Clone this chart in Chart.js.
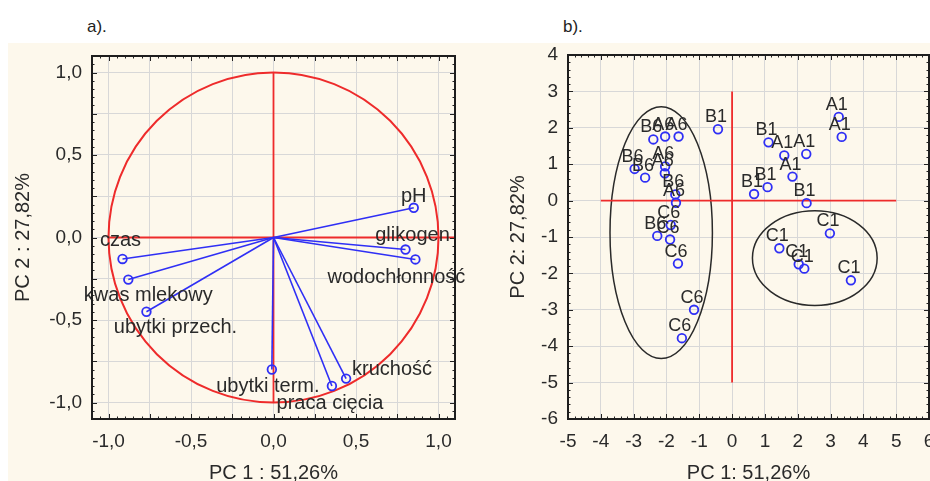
<!DOCTYPE html>
<html><head><meta charset="utf-8">
<script src="https://cdn.jsdelivr.net/npm/chart.js@4"></script>
<style>
html,body{margin:0;padding:0;width:930px;height:481px;overflow:hidden;background:#fff;font-family:"Liberation Sans",Arial,sans-serif;}
#bg{position:absolute;left:8px;top:43px;width:922px;height:438px;background:#fdf8ec;}
.ttl{position:absolute;top:17px;font-size:17px;color:#222;}
#ca{position:absolute;left:8px;top:43px;}
#cb{position:absolute;left:480px;top:43px;}
</style></head>
<body>
<div id="bg"></div>
<div class="ttl" style="left:87px">a).</div>
<div class="ttl" style="left:563px">b).</div>
<canvas id="ca" width="462" height="460"></canvas>
<canvas id="cb" width="470" height="460"></canvas>
<script>
// ---------- Panel a: loadings ----------
const loadingNames = ['pH','glikogen','wodochłonność','czas','kwas mlekowy','ubytki przech.','ubytki term.','praca cięcia','kruchość'];
const loadingPC1 = [0.85, 0.80, 0.86, -0.915, -0.88, -0.77, -0.01, 0.354, 0.44];
const loadingPC2 = [0.18, -0.073, -0.133, -0.13, -0.255, -0.45, -0.80, -0.90, -0.855];
const loadingLabelDx = [0, 7, -19, -2, 20, 29, -4, -2, 46];
const loadingLabelDy = [-6, -9, 24, -13, 21, 21, 22, 23, -4];
const gridTicksA = [-1, -0.75, -0.5, -0.25, 0, 0.25, 0.5, 0.75, 1];
const rangeA = [-1.1, 1.1];
const refH_A = {x:[-1, 1.1], y:[0, 0]};
const refV_A = {x:[0, 0], y:[-1, 1]};
const unitCircle = {cx:0, cy:0, rx:1, ry:1};

// ---------- Panel b: scores ----------
const scoreLabels = ['A1','A1','A1','A1','A1','B1','B1','B1','B1','B1','C1','C1','C1','C1','C1',
                     'A6','A6','A6','A6','A6','B6','B6','B6','B6','B6','C6','C6','C6','C6','C6'];
const scorePC1 = [3.25, 3.34, 1.59, 2.26, 1.84, -0.43, 1.11, 1.08, 0.67, 2.27, 2.98, 1.44, 2.03, 2.20, 3.62,
                  -2.04, -1.63, -2.04, -2.05, -1.71, -2.40, -2.97, -2.65, -1.73, -2.28, -1.87, -1.89, -1.65, -1.16, -1.53];
const scorePC2 = [2.30, 1.75, 1.24, 1.28, 0.66, 1.96, 1.60, 0.37, 0.18, -0.07, -0.90, -1.31, -1.75, -1.87, -2.19,
                  1.76, 1.76, 0.94, 0.75, -0.06, 1.68, 0.87, 0.63, 0.17, -0.97, -0.67, -1.07, -1.73, -3.00, -3.78];
const xRangeB = [-5, 6];
const yRangeB = [-6, 4];
const refH_B = {x:[-4, 5], y:[0, 0]};
const refV_B = {x:[0, 0], y:[-5, 3]};
const groupEllipses = [
  {cx:-2.16, cy:-0.88, rx:1.56, ry:3.46},
  {cx:2.52, cy:-1.58, rx:1.90, ry:1.30}
];

const FONT = '"Liberation Sans", Arial, sans-serif';
const BLUE = '#2f2ff5';
const RED = '#ee2b2b';
const TXT = '#2a2a2a';

function pts(o){ return o.x.map((v,i)=>({x:v, y:o.y[i]})); }
function noPad(s){ s.paddingTop = 0; s.paddingBottom = 0; s.paddingLeft = 0; s.paddingRight = 0; }

const framePlugin = {
  id:'frame',
  beforeDatasetsDraw(chart, args, opts){
    const {ctx, chartArea:a, scales:{x, y}} = chart;
    ctx.save();
    ctx.beginPath(); ctx.rect(a.left, a.top, a.width, a.height); ctx.clip();
    (opts.ellipses||[]).forEach(e=>{
      const px = x.getPixelForValue(e.cx), py = y.getPixelForValue(e.cy);
      const rx = Math.abs(x.getPixelForValue(e.cx+e.rx)-px), ry = Math.abs(y.getPixelForValue(e.cy+e.ry)-py);
      ctx.beginPath(); ctx.ellipse(px, py, rx, ry, 0, 0, Math.PI*2);
      ctx.strokeStyle = e.color || opts.ellipseColor; ctx.lineWidth = opts.ellipseWidth; ctx.stroke();
    });
    ctx.restore();
  },
  afterDatasetsDraw(chart, args, opts){
    const {ctx, chartArea:a, scales:{x, y}} = chart;
    ctx.save();
    if (opts.labels) {
      const L = opts.labels;
      ctx.font = L.font; ctx.fillStyle = TXT; ctx.textAlign = 'center'; ctx.textBaseline = 'alphabetic';
      L.text.forEach((t,i)=>{
        const px = x.getPixelForValue(L.xs[i]) + (L.dx ? L.dx[i] : L.ddx);
        const py = y.getPixelForValue(L.ys[i]) + (L.dy ? L.dy[i] : L.ddy);
        ctx.fillText(t, px, py);
      });
    }
    ctx.strokeStyle = '#222'; ctx.lineWidth = 1;
    const drawTicks = (scale, step, len, horiz) => {
      const i0 = Math.ceil(scale.min/step - 1e-9), i1 = Math.floor(scale.max/step + 1e-9);
      for (let i=i0;i<=i1;i++){
        const p = Math.round(scale.getPixelForValue(i*step)) + 0.5;
        ctx.beginPath();
        if (horiz){ ctx.moveTo(p, a.top); ctx.lineTo(p, a.top+len); ctx.moveTo(p, a.bottom); ctx.lineTo(p, a.bottom-len); }
        else { ctx.moveTo(a.left, p); ctx.lineTo(a.left+len, p); ctx.moveTo(a.right, p); ctx.lineTo(a.right-len, p); }
        ctx.stroke();
      }
    };
    drawTicks(x, opts.minor, 2.5, true); drawTicks(y, opts.minor, 2.5, false);
    drawTicks(x, opts.major, 5, true); drawTicks(y, opts.major, 5, false);
    ctx.lineWidth = 2; ctx.strokeStyle = '#1e1e1e';
    ctx.strokeRect(a.left, a.top, a.width, a.height);
    ctx.restore();
  }
};

function axis(opts){
  return Object.assign({
    type:'linear',
    grid:{color:'#d8d8d8', lineWidth:1, drawTicks:false},
    border:{display:false},
  }, opts);
}

// ---------- Chart a ----------
const dsA = [];
loadingNames.forEach((n,i)=>{
  dsA.push({label:n, data:[{x:0,y:0},{x:loadingPC1[i],y:loadingPC2[i]}], showLine:true,
    borderColor:BLUE, borderWidth:1.6, pointRadius:[0,4.3], pointBorderWidth:1.8,
    pointBorderColor:BLUE, pointBackgroundColor:'rgba(0,0,0,0)', order:1});
});
[refH_A, refV_A].forEach(r=>dsA.push({data:pts(r), showLine:true, borderColor:RED, borderWidth:1.8, pointRadius:0, order:2}));

const fmtA = v => Math.abs(v*2-Math.round(v*2))<1e-9 ? v.toFixed(1).replace('.',',') : '';
new Chart(document.getElementById('ca'), {
  type:'scatter',
  data:{datasets:dsA},
  options:{
    responsive:false, animation:false, events:[],
    layout:{padding:{left:0, top:13, right:15, bottom:0}},
    plugins:{legend:{display:false}, tooltip:{enabled:false},
      frame:{minor:0.05, major:0.25, ellipses:[Object.assign({color:RED}, unitCircle)], ellipseWidth:2,
        labels:{text:loadingNames, xs:loadingPC1, ys:loadingPC2, dx:loadingLabelDx, dy:loadingLabelDy, font:'20px '+FONT}}},
    scales:{
      x: axis({min:rangeA[0], max:rangeA[1],
        afterBuildTicks:s=>{s.ticks = gridTicksA.map(v=>({value:v}));},
        afterFit:s=>{s.height = 84; noPad(s);},
        ticks:{callback:fmtA, autoSkip:false, maxRotation:0, padding:11, color:TXT, font:{family:FONT, size:19}},
        title:{display:true, text:'PC 1 : 51,26%', color:TXT, font:{family:FONT, size:20}, padding:{top:0,bottom:18}}}),
      y: axis({min:rangeA[0], max:rangeA[1],
        afterBuildTicks:s=>{s.ticks = gridTicksA.map(v=>({value:v}));},
        afterFit:s=>{s.width = 84; noPad(s);},
        ticks:{callback:fmtA, autoSkip:false, padding:10, color:TXT, font:{family:FONT, size:19}},
        title:{display:true, text:'PC 2 : 27,82%', color:TXT, font:{family:FONT, size:20}, padding:{top:3,bottom:0}}})
    }
  },
  plugins:[framePlugin]
});

// ---------- Chart b ----------
const dsB = [
  {data:scorePC1.map((v,i)=>({x:v, y:scorePC2[i]})), showLine:false, pointRadius:4.3, pointBorderWidth:1.8,
   pointBorderColor:BLUE, pointBackgroundColor:'rgba(0,0,0,0)', order:1},
  {data:pts(refH_B), showLine:true, borderColor:RED, borderWidth:1.8, pointRadius:0, order:2},
  {data:pts(refV_B), showLine:true, borderColor:RED, borderWidth:1.8, pointRadius:0, order:2}
];
new Chart(document.getElementById('cb'), {
  type:'scatter',
  data:{datasets:dsB},
  options:{
    responsive:false, animation:false, events:[],
    layout:{padding:{left:0, top:12, right:21, bottom:0}},
    plugins:{legend:{display:false}, tooltip:{enabled:false},
      frame:{minor:0.2, major:1, ellipses:groupEllipses, ellipseColor:'#2a2a2a', ellipseWidth:1.5,
        labels:{text:scoreLabels, xs:scorePC1, ys:scorePC2, ddx:-2, ddy:-7, font:'18px '+FONT}}},
    scales:{
      x: axis({min:xRangeB[0], max:xRangeB[1],
        afterFit:s=>{s.height = 84; noPad(s);},
        ticks:{stepSize:1, callback:v=>String(v), autoSkip:false, maxRotation:0, padding:11, color:TXT, font:{family:FONT, size:19}},
        title:{display:true, text:'PC 1: 51,26%', color:TXT, font:{family:FONT, size:20}, padding:{top:0,bottom:18}}}),
      y: axis({min:yRangeB[0], max:yRangeB[1],
        afterFit:s=>{s.width = 88; noPad(s);},
        ticks:{stepSize:1, callback:v=>String(v), autoSkip:false, padding:10, color:TXT, font:{family:FONT, size:19}},
        title:{display:true, text:'PC 2: 27,82%', color:TXT, font:{family:FONT, size:20}, padding:{top:26,bottom:0}}})
    }
  },
  plugins:[framePlugin]
});
</script>
</body></html>
